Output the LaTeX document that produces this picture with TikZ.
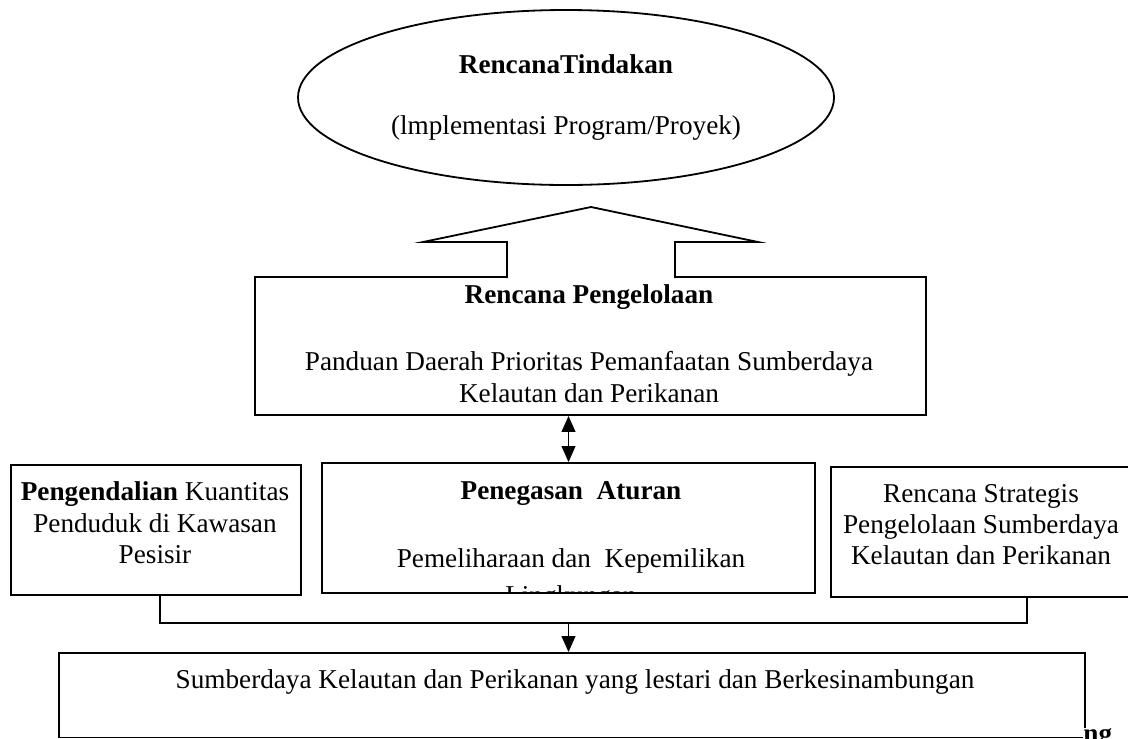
\documentclass[tikz,border=0pt]{standalone}
\usepackage{fontspec}
\setmainfont{Liberation Serif}
\usetikzlibrary{shapes.geometric}
\usetikzlibrary{arrows.meta}
\newcommand{\pxl}{0.441pt}

\tikzset{
  box/.style={draw,thick,rectangle,inner sep=0pt},
  txt/.style={align=center,inner sep=0pt,font=\fontsize{12}{13.8}\selectfont},
}

\begin{document}
\begin{tikzpicture}[x=\pxl,y=-\pxl,>={Triangle[length=7pt,width=6pt]}]
\useasboundingbox (0,0) rectangle (1128,738);

\node[txt,draw,thick,ellipse,minimum width=536*\pxl,minimum height=175*\pxl] (rt) at (566,97.5) {\textbf{RencanaTindakan}\\[13.3pt](lmplementasi Program/Proyek)};

\node[box,minimum width=671*\pxl,minimum height=138*\pxl] (rp) at (590.5,346) {};
\filldraw[thick,fill=white] (507,278) -- (507,242) -- (423,242) -- (591,207) -- (758,242) -- (675,242) -- (675,278);
\node[txt,anchor=north] (rpText) at (589,284.6) {\textbf{Rencana Pengelolaan}\\[15.7pt]Panduan Daerah Prioritas Pemanfaatan Sumberdaya\\Kelautan dan Perikanan};

\node[box,minimum width=290*\pxl,minimum height=130*\pxl] (lb) at (156,530) {};
\node[txt,anchor=north] (lbText) at (155,481.6) {\textbf{Pengendalian} Kuantitas\\Penduduk di Kawasan\\Pesisir};

\node[box,minimum width=493*\pxl,minimum height=130*\pxl] (mp) at (568.5,528) {};
\begin{scope}
\clip (mp.south west) rectangle (mp.north east);
\node[txt,anchor=north] (mpText) at (571,481) {\textbf{Penegasan~~Aturan}\\[16.2pt]Pemeliharaan dan~~Kepemilikan\\[2.6pt]Lingkungan};
\end{scope}

\node[box,minimum width=299*\pxl,minimum height=130*\pxl] (rb) at (980.5,532) {};
\node[txt,anchor=north] (rbText) at (981,483.6) {Rencana Strategis\\Pengelolaan Sumberdaya\\Kelautan dan Perikanan};

\node[box,minimum width=1026*\pxl,minimum height=84.5*\pxl] (bt) at (572,695.25) {};
\node[txt,anchor=base] (btText) at (575,688) {Sumberdaya Kelautan dan Perikanan yang lestari dan Berkesinambungan};
\node[txt,anchor=base west,fill=white,font=\fontsize{12}{13.8}\selectfont\bfseries] (ngText) at (1083,742) {ng};

% connectors
\coordinate (jl) at (160,623);
\coordinate (jr) at (1027,623);
\draw[thick] (lb.south -| jl) -- (jl) -- (jr) -- (rb.south -| jr);
\draw[thick,->] (mp.south |- jl) -- (mp.south |- bt.north);
\draw[thick,<->] (mp.north) -- (mp.north |- rp.south);
\end{tikzpicture}
\end{document}
